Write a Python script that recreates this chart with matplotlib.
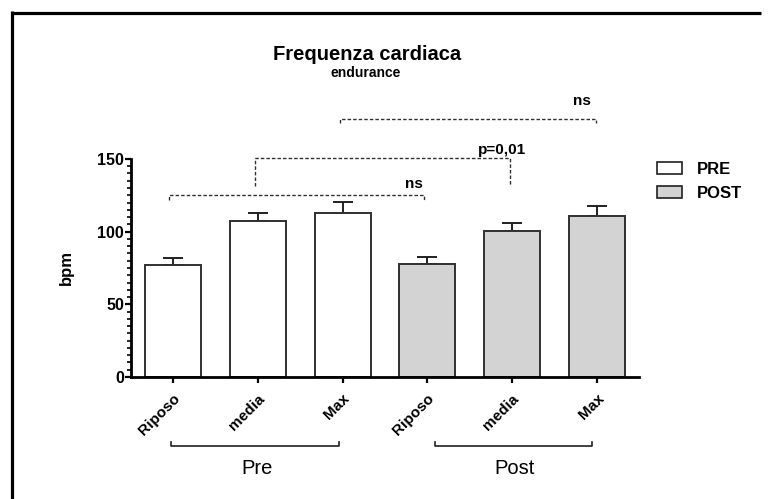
import numpy as np
import matplotlib.pyplot as plt
from matplotlib.lines import Line2D
from matplotlib.patches import Patch
from matplotlib.ticker import MultipleLocator

plt.rcParams['font.family'] = ['Liberation Sans', 'DejaVu Sans']

labels = ['Riposo', 'media', 'Max', 'Riposo', 'media', 'Max']
pre_mean = [76.7, 107.4, 112.9]
pre_sem = [5.1, 5.5, 7.8]
post_mean = [77.4, 100.3, 110.6]
post_sem = [5.2, 5.7, 7.1]

fig = plt.figure(figsize=(7.7, 4.99), dpi=100)
ax = fig.add_axes([0.170, 0.2445, 0.660, 0.437])

x = np.arange(6)
means = pre_mean + post_mean
sems = pre_sem + post_sem
colors = ['white'] * 3 + ['#d3d3d3'] * 3

ax.bar(x, means, width=0.66, color=colors, edgecolor='#303030', linewidth=1.4, zorder=2)
ax.errorbar(x, means, yerr=[np.zeros(6), sems], fmt='none', ecolor='#202020',
            elinewidth=1.4, capsize=7, capthick=1.4, zorder=1)

ax.set_xlim(-0.5, 5.5)
ax.set_ylim(0, 150)
ax.set_yticks([0, 50, 100, 150])
ax.yaxis.set_minor_locator(MultipleLocator(5))
ax.set_xticks(x)
ax.set_xticklabels(labels, rotation=45, ha='right', rotation_mode='anchor',
                   fontsize=11, fontweight='bold')
for t in ax.get_yticklabels():
    t.set_fontweight('bold')
    t.set_fontsize(11.5)
ax.tick_params(axis='both', which='major', length=4.5, width=1.6)
ax.tick_params(axis='y', which='major', pad=0.5)
ax.tick_params(axis='y', which='minor', length=3, width=1.2)
ax.tick_params(axis='x', pad=6)
for s in ['top', 'right']:
    ax.spines[s].set_visible(False)
for s in ['left', 'bottom']:
    ax.spines[s].set_linewidth(2)
ax.set_ylabel('bpm', fontsize=12, fontweight='bold', labelpad=17)


# significance brackets (dashed, drawn above the axes)
def bracket(x0, x1, y, d0, d1, text, tx, ty):
    ax.plot([x0, x0, x1, x1], [y - d0, y, y, y - d1], ls=(0, (2.5, 1.5)),
            lw=1, color='#303030', clip_on=False)
    ax.text(tx, ty, text, ha='center', va='center', fontsize=11,
            fontweight='bold', clip_on=False)


bracket(-0.05, 2.96, 125, 3.5, 3.5, 'ns', 2.84, 132.5)
bracket(0.97, 3.98, 150.5, 19, 19, 'p=0,01', 3.88, 156)
bracket(1.97, 4.99, 177.4, 2.8, 2.8, 'ns', 4.82, 190)

# group brackets below the tick labels
for x0, x1, name in [(-0.03, 1.96, 'Pre'), (3.09, 4.94, 'Post')]:
    ax.plot([x0, x0, x1, x1], [-44.5, -47.8, -47.8, -44.5], color='#202020',
            lw=1.2, clip_on=False, transform=ax.transData)
    ax.text((x0 + x1) / 2 + 0.02, -63, name, ha='center', va='center', fontsize=14.5,
            clip_on=False)

fig.text(367 / 770, 1 - 54 / 499, 'Frequenza cardiaca', ha='center', va='center',
         fontsize=14.5, fontweight='bold')
fig.text(366 / 770, 1 - 73 / 499, 'endurance', ha='center', va='center',
         fontsize=10, fontweight='bold')

handles = [Patch(facecolor='white', edgecolor='#202020', lw=1.2, label='PRE'),
           Patch(facecolor='#d3d3d3', edgecolor='#202020', lw=1.2, label='POST')]
fig.legend(handles=handles, loc='upper left', bbox_to_anchor=(652 / 770, 1 - 157 / 499),
           frameon=False, prop={'weight': 'bold', 'size': 12}, handlelength=1.5,
           handleheight=0.75, handletextpad=0.9, labelspacing=0.55,
           borderaxespad=0, borderpad=0.3)

# outer frame (top and left edges)
fig.add_artist(Line2D([12.5 / 770, 12.5 / 770], [0, 1 - 11 / 499], color='black', lw=2.3,
                      solid_capstyle='butt', transform=fig.transFigure))
fig.add_artist(Line2D([11 / 770, 761 / 770], [1 - 12.5 / 499, 1 - 12.5 / 499], color='black',
                      lw=2.3, solid_capstyle='butt', transform=fig.transFigure))

fig.savefig('out.png', dpi=100)
